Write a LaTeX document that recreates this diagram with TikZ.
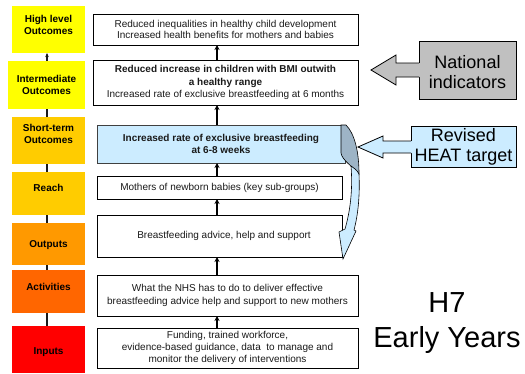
\documentclass[tikz,border=0pt]{standalone}
\usepackage{fontspec}
\setmainfont{Liberation Sans}
\usetikzlibrary{arrows.meta}
\definecolor{yel}{HTML}{FFFF00}
\definecolor{amber}{HTML}{FFCC00}
\definecolor{orng}{HTML}{FF9900}
\definecolor{dorng}{HTML}{FF6600}
\definecolor{rd}{HTML}{FF0000}
\definecolor{lblue}{HTML}{CCECFF}
\definecolor{gblue}{HTML}{9DB4C6}
\definecolor{natgray}{HTML}{C0C0C0}
\definecolor{txt}{HTML}{1A1A1A}
\begin{document}
\begin{tikzpicture}[x=1pt,y=-1pt,
  lbox/.style={minimum width=73pt, inner sep=0pt, outer sep=0pt},
  ltxt/.style={inner sep=0pt, align=center, font=\fontsize{10}{12}\selectfont\bfseries},
  rbox/.style={draw=black, line width=0.8pt, fill=white, inner sep=0pt, outer sep=0pt, align=center, text=txt, font=\fontsize{10}{11.5}\selectfont},
  upar/.style={line width=1.5pt, -{Stealth[length=5pt,width=5pt]}},
  lline/.style={line width=1.2pt, draw=txt},
  bigtxt/.style={inner sep=0pt, align=center, font=\fontsize{18}{20.5}\selectfont}
]
\useasboundingbox[fill=white] (0,0) rectangle (525,373);

% left column
\node[lbox, fill=yel, minimum height=47pt] (lhigh) at (48.5,29.5) {};
\node[lbox, fill=yel, minimum width=77pt, minimum height=48pt] (linter) at (46.5,85) {};
\node[lbox, fill=amber, minimum height=47pt] (lshort) at (48.5,140.5) {};
\node[lbox, fill=amber, minimum height=43pt] (lreach) at (48.5,193.5) {};
\node[lbox, fill=orng, minimum height=42pt] (lout) at (48.5,244) {};
\node[lbox, fill=dorng, minimum height=43pt] (lact) at (48.5,291.5) {};
\node[lbox, fill=rd, minimum height=47pt] (linp) at (48.5,349.5) {};

\node[ltxt] (lhighT) at (48.5,25) {High level\\Outcomes};
\node[ltxt] (linterT) at (46.5,85) {Intermediate\\Outcomes};
\node[ltxt] (lshortT) at (48.5,134) {Short-term\\Outcomes};
\node[ltxt] (lreachT) at (48.5,188) {Reach};
\node[ltxt] (loutT) at (48.5,245) {Outputs};
\node[ltxt] (lactT) at (48.5,287) {Activities};
\node[ltxt] (linpT) at (48.5,352) {Inputs};

\coordinate (lx) at (47,0);
\draw[lline] (linp.north -| lx) -- (lact.south -| lx);
\draw[lline] (lact.north -| lx) -- (lout.south -| lx);
\draw[lline] (lout.north -| lx) -- (lreach.south -| lx);
\draw[lline] (lreach.north -| lx) -- (lshort.south -| lx);
\draw[lline] (lshort.north -| lx) -- (linter.south -| lx);
\draw[lline, -{Stealth[length=4pt,width=3.5pt]}] (linter.north -| lx) -- (lhigh.south -| lx);

% right column
\node[rbox, minimum width=265pt, minimum height=31pt] (rhigh) at (225.5,29.5)
  {Reduced inequalities in healthy child development\\Increased health benefits for mothers and babies};
\node[rbox, minimum width=265pt, minimum height=45pt, font=\fontsize{10}{12.3}\selectfont] (rinter) at (225.5,82.5)
  {\bfseries Reduced increase in children with BMI outwith\\\bfseries a healthy range\\\mdseries Increased rate of exclusive breastfeeding at 6 months};
\node[rbox, fill=lblue, draw=black!75, minimum width=248pt, minimum height=38pt, font=\fontsize{10}{12.5}\selectfont\bfseries] (rshort) at (221,144)
  {Increased rate of exclusive breastfeeding\\at 6-8 weeks};
\node[rbox, minimum width=245pt, minimum height=23pt] (rreach) at (219.5,187.5)
  {Mothers of newborn babies (key sub-groups)};
\node[rbox, minimum width=245pt, minimum height=42pt] (rout) at (219.5,236)
  {\hspace*{9pt}Breastfeeding advice, help and support};
\node[rbox, minimum width=261pt, minimum height=41pt, font=\fontsize{10}{12.3}\selectfont] (ract) at (227.5,295.5)
  {What the NHS has to do to deliver effective\\breastfeeding advice help and support to new mothers};
\node[rbox, minimum width=261pt, minimum height=40pt, font=\fontsize{10}{12}\selectfont] (rinp) at (227.5,348)
  {Funding, trained workforce,\\evidence-based guidance, data\ \ to manage and\\monitor the delivery of interventions};

\coordinate (ax) at (217,0);
\draw[upar] (rinp.north -| ax) -- (ract.south -| ax);
\draw[upar] (ract.north -| ax) -- (rout.south -| ax);
\draw[upar] (rout.north -| ax) -- (rreach.south -| ax);
\draw[upar] (rreach.north -| ax) -- (rshort.south -| ax);
\draw[upar] (rshort.north -| ax) -- (rinter.south -| ax);
\draw[upar] (rinter.north -| ax) -- (rhigh.south -| ax);

% curved arrow (back and front)
\filldraw[fill=gblue, draw=black, line width=0.6pt]
  (341,125) -- (346,125) .. controls (354,133) and (359,150) .. (359,174)
  .. controls (352,166) and (342,160) .. (341,153) -- cycle;
\filldraw[fill=lblue, draw=black, line width=0.6pt]
  (359,174) .. controls (360,196) and (358,215) .. (354,230)
  -- (356,231) -- (343,259) -- (339,232) -- (345,229)
  .. controls (350,212) and (353,190) .. (351,166)
  .. controls (354,168) and (357,170) .. (359,174) -- cycle;

% National indicators
\node[draw=black, line width=0.8pt, fill=natgray, minimum width=97pt, minimum height=58pt, inner sep=0pt] (nat) at (467.5,70) {};
\fill[natgray] (420,63) -- (396,63) -- (396,55) -- (371,70) -- (396,85) -- (396,77) -- (420,77) -- cycle;
\draw[line width=0.8pt] (419,63) -- (396,63) -- (396,55) -- (371,70) -- (396,85) -- (396,77) -- (419,77);
\node[bigtxt] (natT) at (467.5,72) {National\\indicators};

% Revised HEAT target
\node[draw=black, line width=0.8pt, fill=lblue, minimum width=105pt, minimum height=41pt, inner sep=0pt] (heat) at (463.5,146.5) {};
\fill[lblue] (412,141) -- (383,141) -- (383,136) -- (358,147) -- (383,158) -- (383,153) -- (412,153) -- cycle;
\draw[line width=0.8pt] (411,141) -- (383,141) -- (383,136) -- (358,147) -- (383,158) -- (383,153) -- (411,153);
\node[bigtxt] (heatT) at (463.5,147) {Revised\\HEAT target};

% title
\node[inner sep=0pt, align=center, font=\fontsize{29}{35}\selectfont] (title) at (447,323) {H7\\Early Years};
\end{tikzpicture}
\end{document}
